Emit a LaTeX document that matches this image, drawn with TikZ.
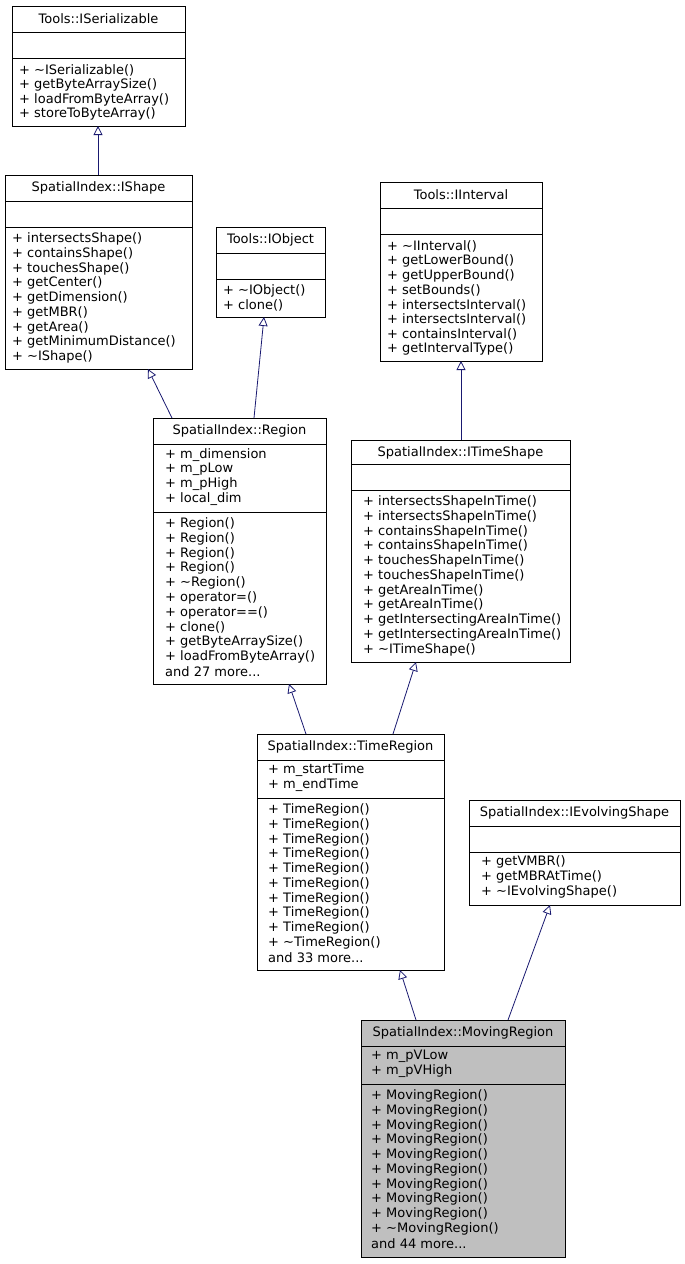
\documentclass[tikz,border=0pt]{standalone}
\usepackage{fontspec}
\setmainfont{DejaVu Sans}
\usetikzlibrary{arrows.meta}
\begin{document}
\begin{tikzpicture}[x=1pt,y=-1pt,
  box/.style={draw=black,line width=0.8pt,inner sep=0pt},
  t/.style={anchor=west,inner sep=0pt,font=\fontsize{13}{14}\selectfont},
  ttl/.style={anchor=center,inner sep=0pt,font=\fontsize{13}{14}\selectfont},
  inh/.style={draw={rgb,255:red,25;green,25;blue,112},line width=0.8pt,-{Triangle[open,length=9pt,width=9pt]}}]
\useasboundingbox (0,0) rectangle (685,1264);
\newcommand\umlbox[8]{%
  \node[box,fill=#8,minimum width={#4-#2},minimum height={#5-#3},anchor=north west] (#1) at (#2,#3) {};
  \node[ttl] (#1t) at ({(#2+#4)/2},#3+13) {#6};
  \foreach \s in {#7} {\draw[line width=0.8pt] (#2,\s) -- (#4,\s);}
}
\newcommand\lns[4]{%
  \foreach \q [count=\i] in {#4} {\node[t] (#1l\i) at (#2,{#3+(\i-1)*14.75}) {\q};}
}
\umlbox{ser}{12}{6}{185}{126}{Tools::ISerializable}{32,58}{white}
\lns{ser}{19}{70}{+ \textasciitilde ISerializable(),+ getByteArraySize(),+ loadFromByteArray(),+ storeToByteArray()}

\umlbox{ish}{5}{175}{192}{369}{SpatialIndex::IShape}{201,227}{white}
\lns{ish}{12}{239}{+ intersectsShape(),+ containsShape(),+ touchesShape(),+ getCenter(),+ getDimension(),+ getMBR(),+ getArea(),+ getMinimumDistance(),+ \textasciitilde IShape()}

\umlbox{iob}{216}{227}{325}{317}{Tools::IObject}{253,279}{white}
\lns{iob}{223}{291}{+ \textasciitilde IObject(),+ clone()}

\umlbox{iin}{380}{182}{542}{361}{Tools::IInterval}{208,234}{white}
\lns{iin}{387}{246}{+ \textasciitilde IInterval(),+ getLowerBound(),+ getUpperBound(),+ setBounds(),+ intersectsInterval(),+ intersectsInterval(),+ containsInterval(),+ getIntervalType()}

\umlbox{reg}{153}{418}{326}{684}{SpatialIndex::Region}{444,512}{white}
\lns{rega}{165}{455}{+ m\_dimension,+ m\_pLow,+ m\_pHigh,+ local\_dim}
\lns{regm}{165}{524}{+ Region(),+ Region(),+ Region(),+ Region(),+ \textasciitilde Region(),+ operator=(),+ operator==(),+ clone(),+ getByteArraySize(),+ loadFromByteArray(),and 27 more.{}.{}.}

\umlbox{its}{351}{440}{570}{662}{SpatialIndex::ITimeShape}{464,490}{white}
\lns{its}{363}{502}{+ intersectsShapeInTime(),+ intersectsShapeInTime(),+ containsShapeInTime(),+ containsShapeInTime(),+ touchesShapeInTime(),+ touchesShapeInTime(),+ getAreaInTime(),+ getAreaInTime(),+ getIntersectingAreaInTime(),+ getIntersectingAreaInTime(),+ \textasciitilde ITimeShape()}

\umlbox{tr}{257}{734}{444}{970}{SpatialIndex::TimeRegion}{760,798}{white}
\lns{tra}{268}{770}{+ m\_startTime,+ m\_endTime}
\lns{trm}{268}{810}{+ TimeRegion(),+ TimeRegion(),+ TimeRegion(),+ TimeRegion(),+ TimeRegion(),+ TimeRegion(),+ TimeRegion(),+ TimeRegion(),+ TimeRegion(),+ \textasciitilde TimeRegion(),and 33 more.{}.{}.}

\umlbox{ies}{469}{800}{680}{905}{SpatialIndex::IEvolvingShape}{826,852}{white}
\lns{ies}{481}{862}{+ getVMBR(),+ getMBRAtTime(),+ \textasciitilde IEvolvingShape()}

\umlbox{mr}{361}{1020}{565}{1257}{SpatialIndex::MovingRegion}{1046,1084}{{rgb,255:red,191;green,191;blue,191}}
\lns{mra}{371}{1056}{+ m\_pVLow,+ m\_pVHigh}
\lns{mrm}{371}{1096}{+ MovingRegion(),+ MovingRegion(),+ MovingRegion(),+ MovingRegion(),+ MovingRegion(),+ MovingRegion(),+ MovingRegion(),+ MovingRegion(),+ MovingRegion(),+ \textasciitilde MovingRegion(),and 44 more.{}.{}.}

\coordinate (c1) at (98,175); \coordinate (p1) at (98,126);
\coordinate (c2) at (172,418); \coordinate (p2) at (148,369);
\coordinate (c3) at (254,418); \coordinate (p3) at (264,317);
\coordinate (c4) at (461,440); \coordinate (p4) at (461,361);
\coordinate (c5) at (306,734); \coordinate (p5) at (289,684);
\coordinate (c6) at (393,734); \coordinate (p6) at (416,662);
\coordinate (c7) at (416,1020); \coordinate (p7) at (400,970);
\coordinate (c8) at (508,1020); \coordinate (p8) at (550,905);
\foreach \i in {1,...,8} {\draw[inh] (c\i) -- (p\i);}
\end{tikzpicture}
\end{document}
